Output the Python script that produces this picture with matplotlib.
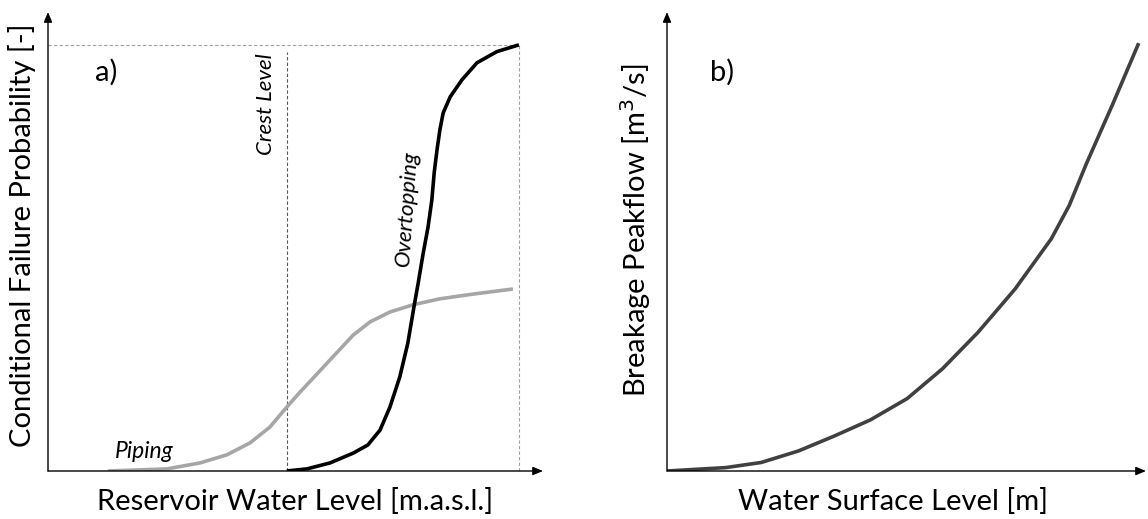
import matplotlib.pyplot as plt
import numpy as np

plt.rcParams['font.family'] = ['Lato', 'DejaVu Sans']

# panel a) - water level normalised to the right dashed line, probability 0..1
over_x = [0.507, 0.550, 0.599, 0.648, 0.679, 0.705, 0.726, 0.747, 0.764, 0.777, 0.786, 0.796,
          0.807, 0.815, 0.820, 0.826, 0.832, 0.839, 0.854, 0.879, 0.911, 0.953, 1.0]
over_y = [0.0, 0.005, 0.019, 0.042, 0.061, 0.096, 0.150, 0.221, 0.300, 0.385, 0.441, 0.507,
          0.573, 0.636, 0.700, 0.754, 0.800, 0.840, 0.878, 0.918, 0.958, 0.984, 1.0]
pip_x = [0.127, 0.180, 0.253, 0.323, 0.380, 0.429, 0.471, 0.507, 0.535, 0.563, 0.605, 0.648,
         0.684, 0.726, 0.775, 0.832, 0.902, 0.987]
pip_y = [0.0, 0.002, 0.005, 0.019, 0.038, 0.066, 0.103, 0.150, 0.185, 0.218, 0.268, 0.319,
         0.350, 0.373, 0.390, 0.404, 0.415, 0.427]
crest_x = 0.507

# panel b)
peak_x = [0.0, 0.125, 0.2, 0.279, 0.355, 0.432, 0.51, 0.585, 0.66, 0.739, 0.816, 0.854, 0.89, 0.946, 1.0]
peak_y = [0.0, 0.008, 0.02, 0.047, 0.082, 0.12, 0.17, 0.24, 0.325, 0.427, 0.545, 0.623, 0.72, 0.86, 1.0]

fig = plt.figure(figsize=(11.48, 5.19), dpi=100)


def bare_axes(rect, xmax, ymax):
    ax = fig.add_axes(rect)
    ax.set_xlim(0, xmax)
    ax.set_ylim(0, ymax)
    for s in ax.spines.values():
        s.set_visible(False)
    ax.set_xticks([])
    ax.set_yticks([])
    arrow = dict(arrowstyle='-|>,head_length=0.6,head_width=0.25', color='black', lw=1.0,
                 shrinkA=0, shrinkB=0)
    ax.annotate('', xy=(1, 0), xytext=(0, 0), xycoords='axes fraction', arrowprops=arrow)
    ax.annotate('', xy=(0, 1), xytext=(0, 0), xycoords='axes fraction', arrowprops=arrow)
    return ax


# panel a
ax1 = bare_axes([48 / 1148, 48 / 519, 495 / 1148, 459 / 519], 1.051, 1.077)
ax1.plot([0, 1], [1, 1], color='#a0a0a0', lw=0.8, dashes=(3, 2))
ax1.plot([1, 1], [0, 1], color='#a0a0a0', lw=0.8, dashes=(3, 2))
ax1.plot([crest_x, crest_x], [0, 0.984], color='#555555', lw=0.8, dashes=(3, 2))
ax1.plot(pip_x, pip_y, color='#a6a6a6', lw=2.6, solid_capstyle='butt', solid_joinstyle='round')
ax1.plot(over_x, over_y, color='black', lw=2.6, solid_capstyle='butt', solid_joinstyle='round')
ax1.text(0.10, 0.935, 'a)', fontsize=21, va='center', ha='left')
ax1.text(0.463, 0.861, 'Crest Level', fontsize=16, style='italic', rotation=90, ha='center', va='center')
ax1.text(0.762, 0.617, 'Overtopping', fontsize=16, style='italic', rotation=86, ha='center', va='center')
ax1.text(0.142, 0.045, 'Piping', fontsize=16.5, style='italic', ha='left', va='center')
ax1.set_xlabel('Reservoir Water Level [m.a.s.l.]', fontsize=21)
ax1.set_ylabel('Conditional Failure Probability [-]', fontsize=21)
ax1.xaxis.set_label_coords(0.5, -0.037)
ax1.yaxis.set_label_coords(-0.024, 0.514)

# panel b
ax2 = bare_axes([667 / 1148, 48 / 519, 479 / 1148, 459 / 519], 1.017, 1.077)
ax2.plot(peak_x, peak_y, color='#404040', lw=2.6, solid_joinstyle='round')
ax2.text(0.091, 0.935, 'b)', fontsize=21, va='center', ha='left')
ax2.set_xlabel('Water Surface Level [m]', fontsize=21)
ax2.set_ylabel('Breakage Peakflow [m$^3$/s]', fontsize=21)
ax2.xaxis.set_label_coords(0.472, -0.037)
ax2.yaxis.set_label_coords(-0.029, 0.525)

fig.savefig('out.png', dpi=100)
